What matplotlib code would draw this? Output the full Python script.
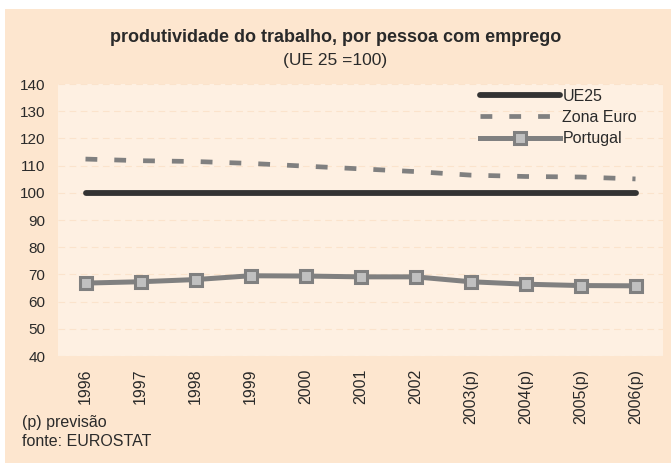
import numpy as np
import matplotlib.pyplot as plt
from matplotlib.patches import Rectangle

plt.rcParams['font.family'] = ['Liberation Sans', 'DejaVu Sans']

# dados
anos = ['1996', '1997', '1998', '1999', '2000', '2001', '2002',
        '2003(p)', '2004(p)', '2005(p)', '2006(p)']
ue25 = [100, 100, 100, 100, 100, 100, 100, 100, 100, 100, 100]
zona_euro = [112.4, 111.8, 111.5, 110.8, 109.8, 108.8, 107.8, 106.5, 106.0, 105.8, 105.1]
portugal = [66.8, 67.3, 68.1, 69.5, 69.4, 69.1, 69.1, 67.3, 66.4, 65.9, 65.8]

fundo = '#fde6cf'
fundo_graf = '#fef0e2'
texto = '#2a2a2a'

fig = plt.figure(figsize=(6.71, 4.63), dpi=100, facecolor='white')
# moldura de fundo
fig.patches.append(Rectangle((5 / 671, 0.0), 1.0, 1 - 9 / 463,
                             transform=fig.transFigure, facecolor=fundo,
                             edgecolor='none', zorder=-10))

ax = fig.add_axes([58 / 671, 1 - 356 / 463, 605 / 671, 272 / 463])
ax.set_facecolor(fundo_graf)

x = np.arange(len(anos))
ax.plot(x, ue25, color='#333333', lw=4.2, solid_capstyle='round', label='UE25', zorder=3)
ax.plot(x, zona_euro, color='#808080', lw=3.4, ls=(0, (2.5, 3.6)), label='Zona Euro', zorder=3)
ax.plot(x, portugal, color='#808080', lw=3.6, marker='s', markersize=9,
        markerfacecolor='#c0c0c0', markeredgecolor='#808080', markeredgewidth=2.2,
        label='Portugal', zorder=4)

ax.set_xlim(-0.5, len(anos) - 0.5)
ax.set_ylim(40, 140)
ax.set_yticks(np.arange(40, 141, 10))
ax.set_xticks(x)
ax.set_xticklabels(anos, rotation=90)
ax.tick_params(axis='both', length=0, colors=texto)
ax.tick_params(axis='y', pad=9, labelsize=11)
ax.tick_params(axis='x', pad=9, labelsize=11.5)
ax.grid(axis='y', color='#fbe3cc', ls=(0, (6, 4)), lw=0.8)
ax.set_axisbelow(True)
for s in ax.spines.values():
    s.set_visible(False)

leg = ax.legend(loc='upper left', bbox_to_anchor=(480 / 671, 1 - 89 / 463),
                bbox_transform=fig.transFigure, frameon=False, fontsize=11.5,
                handlelength=5.0, handletextpad=0.15, labelspacing=0.38,
                borderaxespad=0, borderpad=0)
for t in leg.get_texts():
    t.set_color(texto)

fig.text(0.5, 1 - 37 / 463, 'produtividade do trabalho, por pessoa com emprego',
         ha='center', va='center', fontsize=13, fontweight='bold', color=texto)
fig.text(0.5, 1 - 60 / 463, '(UE 25 =100)', ha='center', va='center',
         fontsize=12.5, color=texto)
fig.text(22 / 671, 1 - 422 / 463, '(p) previsão', ha='left', va='center',
         fontsize=11.5, color=texto)
fig.text(22 / 671, 1 - 442 / 463, 'fonte: EUROSTAT', ha='left', va='center',
         fontsize=11.5, color=texto)

fig.savefig('out.png', dpi=100, facecolor=fig.get_facecolor())
